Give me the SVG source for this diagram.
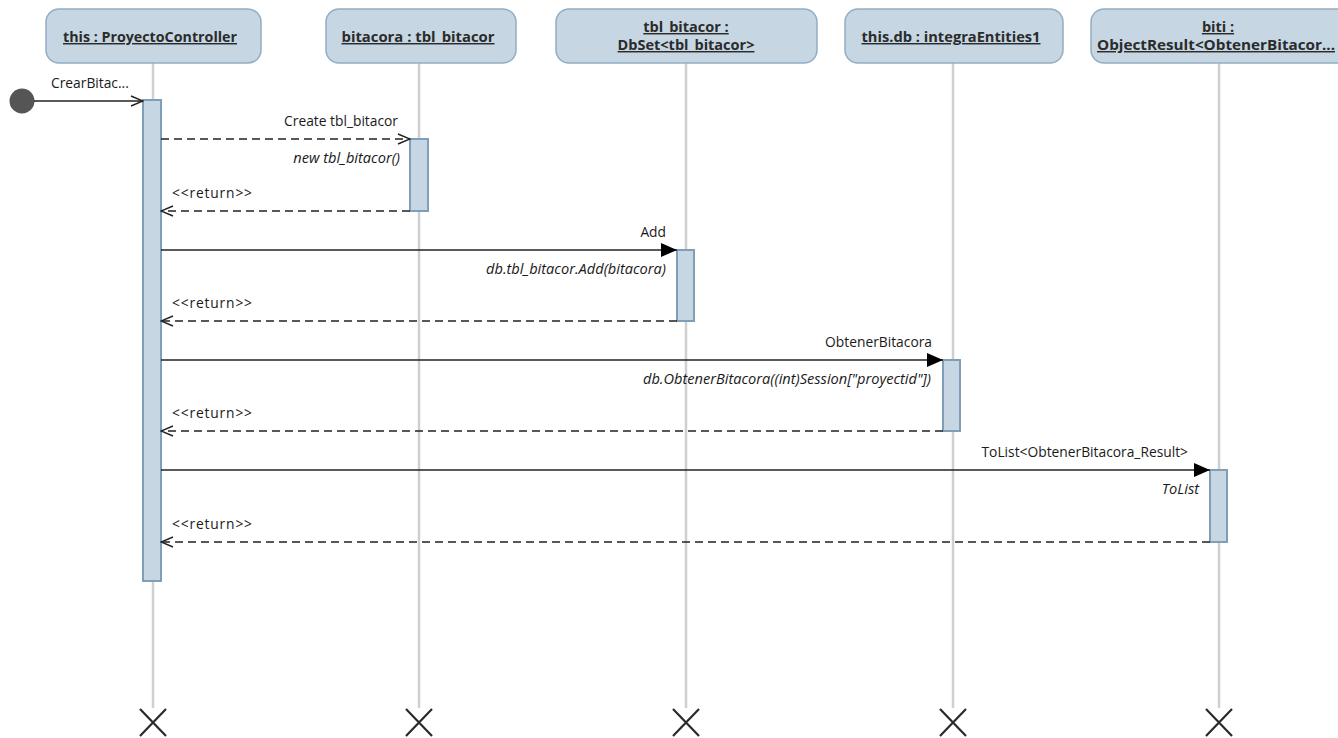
<svg xmlns="http://www.w3.org/2000/svg" width="1338" height="738" viewBox="0 0 1338 738">
  <style>
    .head { fill: #c6d7e3; stroke: #93adc2; stroke-width: 1.5; }
    .htxt { font-family: "Open Sans", "Noto Sans", "Liberation Sans", sans-serif; font-size: 14.5px; font-weight: bold; fill: #2b2b2b; text-decoration: underline; text-anchor: middle; }
    .life { stroke: #cfcfcf; stroke-width: 2.5; fill: none; }
    .bar { fill: #c6d7e3; stroke: #7f9fb8; stroke-width: 2; }
    .kill { stroke: #2a2a2a; stroke-width: 2.2; fill: none; }
    .msg { stroke: #222; stroke-width: 1.3; fill: none; }
    .dash { stroke-dasharray: 8 5; }
    .lbl { font-family: "Open Sans", "Noto Sans", "Liberation Sans", sans-serif; font-size: 13.8px; fill: #1a1a1a; }
    .it { font-style: italic; font-size: 14.6px; }
    .end { text-anchor: end; }
  </style>
  <defs>
    <marker id="open" viewBox="0 0 14 12" refX="13" refY="6" markerWidth="14" markerHeight="12" markerUnits="userSpaceOnUse" orient="auto">
      <path d="M1,1 L13,6 L1,11" fill="none" stroke="#222" stroke-width="1.4"/>
    </marker>
    <marker id="solid" viewBox="0 0 16 14" refX="16" refY="7" markerWidth="16" markerHeight="14" markerUnits="userSpaceOnUse" orient="auto">
      <path d="M0,0 L16,7 L0,14 Z" fill="#000"/>
    </marker>
  </defs>

  <!-- lifelines -->
  <g id="lifelines">
    <line class="life" x1="153" y1="63" x2="153" y2="708"/>
    <line class="life" x1="419" y1="63" x2="419" y2="708"/>
    <line class="life" x1="686" y1="63" x2="686" y2="708"/>
    <line class="life" x1="953" y1="63" x2="953" y2="708"/>
    <line class="life" x1="1219" y1="63" x2="1219" y2="708"/>
  </g>

  <!-- participant heads -->
  <g id="p-controller">
    <rect class="head" x="46" y="9" width="215" height="54" rx="13"/>
    <text class="htxt" x="150" y="42" textLength="174" lengthAdjust="spacingAndGlyphs">this : ProyectoController</text>
  </g>
  <g id="p-bitacora">
    <rect class="head" x="326" y="9" width="190" height="54" rx="13"/>
    <text class="htxt" x="418" y="42" textLength="153" lengthAdjust="spacingAndGlyphs">bitacora : tbl_bitacor</text>
  </g>
  <g id="p-dbset">
    <rect class="head" x="556" y="9" width="261" height="54" rx="13"/>
    <text class="htxt" x="686" y="32">tbl_bitacor :</text>
    <text class="htxt" x="686" y="50">DbSet&lt;tbl_bitacor&gt;</text>
  </g>
  <g id="p-db">
    <rect class="head" x="845" y="9" width="218" height="54" rx="13"/>
    <text class="htxt" x="951" y="42" textLength="179" lengthAdjust="spacingAndGlyphs">this.db : integraEntities1</text>
  </g>
  <g id="p-biti">
    <rect class="head" x="1091" y="9" width="262" height="54" rx="13"/>
    <text class="htxt" x="1218" y="32">biti :</text>
    <text class="htxt" x="1216" y="50" textLength="238" lengthAdjust="spacingAndGlyphs">ObjectResult&lt;ObtenerBitacor...</text>
  </g>

  <!-- activation bars -->
  <g id="activations">
    <rect class="bar" x="143" y="100" width="18" height="481"/>
    <rect class="bar" x="410" y="139" width="18" height="72"/>
    <rect class="bar" x="677" y="250" width="17" height="71"/>
    <rect class="bar" x="943" y="360" width="17" height="71"/>
    <rect class="bar" x="1210" y="470" width="17" height="72"/>
  </g>

  <!-- destruction marks -->
  <g id="destroy">
    <path class="kill" d="M140,709 L166,736 M166,709 L140,736"/>
    <path class="kill" d="M406,709 L432,736 M432,709 L406,736"/>
    <path class="kill" d="M673,709 L699,736 M699,709 L673,736"/>
    <path class="kill" d="M940,709 L966,736 M966,709 L940,736"/>
    <path class="kill" d="M1206,709 L1232,736 M1232,709 L1206,736"/>
  </g>

  <!-- start point -->
  <g id="start">
    <circle cx="22" cy="101" r="12.5" fill="#555"/>
  </g>

  <!-- messages -->
  <g id="connectors">
    <line class="msg" x1="34" y1="101" x2="143" y2="101" marker-end="url(#open)"/>
    <text class="lbl" x="51" y="88">CrearBitac...</text>

    <line class="msg dash" x1="161" y1="139" x2="410" y2="139" marker-end="url(#open)"/>
    <text class="lbl end" x="398" y="126">Create tbl_bitacor</text>
    <text class="lbl it end" x="400" y="163">new tbl_bitacor()</text>
    <line class="msg dash" x1="410" y1="211" x2="161" y2="211" marker-end="url(#open)"/>
    <text class="lbl" x="172" y="198" textLength="80">&lt;&lt;return&gt;&gt;</text>

    <line class="msg" x1="161" y1="250" x2="677" y2="250" marker-end="url(#solid)"/>
    <text class="lbl end" x="666" y="237">Add</text>
    <text class="lbl it end" x="666" y="274">db.tbl_bitacor.Add(bitacora)</text>
    <line class="msg dash" x1="677" y1="321" x2="161" y2="321" marker-end="url(#open)"/>
    <text class="lbl" x="172" y="308" textLength="80">&lt;&lt;return&gt;&gt;</text>

    <line class="msg" x1="161" y1="360" x2="943" y2="360" marker-end="url(#solid)"/>
    <text class="lbl end" x="932" y="347">ObtenerBitacora</text>
    <text class="lbl it end" x="931" y="384">db.ObtenerBitacora((int)Session["proyectid"])</text>
    <line class="msg dash" x1="943" y1="431" x2="161" y2="431" marker-end="url(#open)"/>
    <text class="lbl" x="172" y="418" textLength="80">&lt;&lt;return&gt;&gt;</text>

    <line class="msg" x1="161" y1="470" x2="1210" y2="470" marker-end="url(#solid)"/>
    <text class="lbl end" x="1188" y="457">ToList&lt;ObtenerBitacora_Result&gt;</text>
    <text class="lbl it end" x="1199" y="494">ToList</text>
    <line class="msg dash" x1="1210" y1="542" x2="161" y2="542" marker-end="url(#open)"/>
    <text class="lbl" x="172" y="529" textLength="80">&lt;&lt;return&gt;&gt;</text>
  </g>
</svg>
